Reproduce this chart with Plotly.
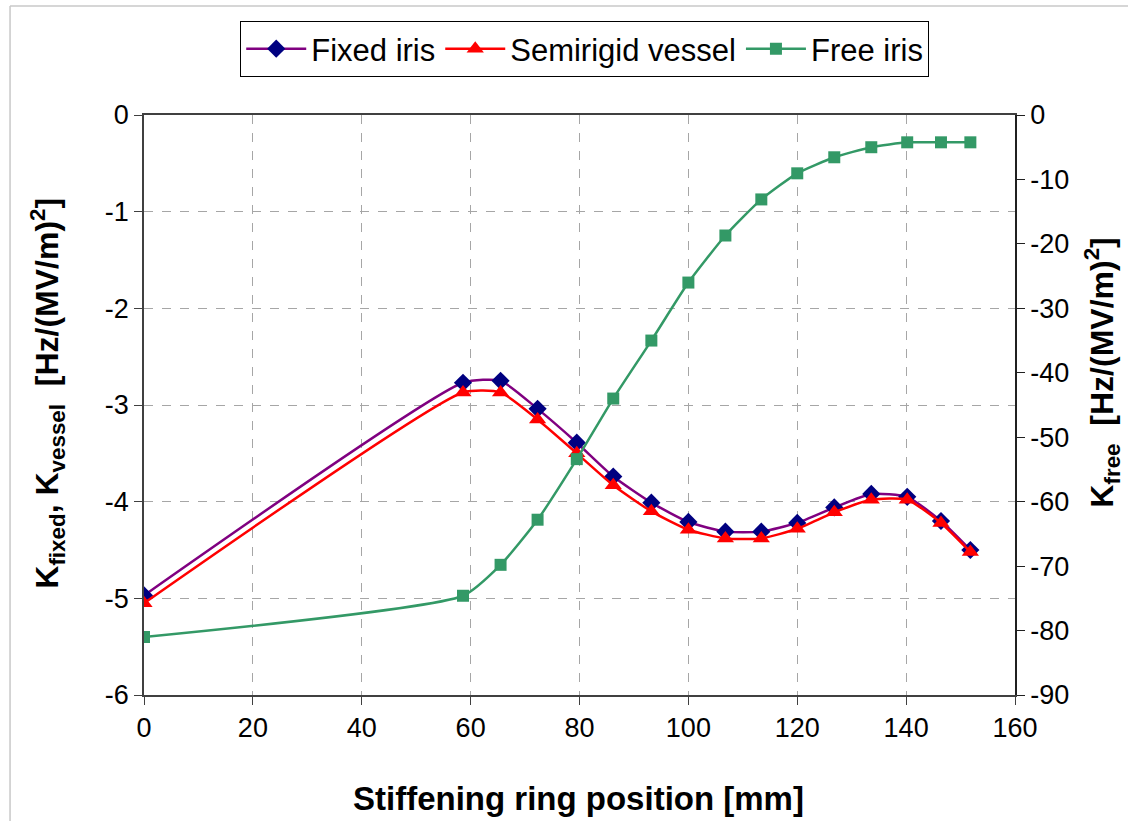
import plotly.graph_objects as go

# Stiffening ring position [mm]
ring_pos = [0, 58.6, 65.5, 72.3, 79.5, 86.2, 93.2, 100, 106.8, 113.4, 120, 126.8, 133.6, 140.2, 146.4, 151.8]

# Lorentz-force detuning coefficients [Hz/(MV/m)^2]
k_fixed = [-4.97, -2.77, -2.75, -3.04, -3.39, -3.74, -4.01, -4.21, -4.31, -4.31, -4.22, -4.06, -3.92, -3.95, -4.20, -4.50]
k_vessel = [-5.05, -2.87, -2.87, -3.15, -3.50, -3.83, -4.10, -4.29, -4.38, -4.38, -4.28, -4.11, -3.98, -3.98, -4.22, -4.52]
k_free = [-81.0, -74.6, -69.8, -62.8, -53.4, -44.0, -35.0, -26.0, -18.7, -13.1, -9.05, -6.56, -5.0, -4.24, -4.24, -4.24]

series_names = ["Fixed iris", "Semirigid vessel", "Free iris"]

# Axis tick values and their labels (plain hyphen minus)
x_ticks = [0, 20, 40, 60, 80, 100, 120, 140, 160]
y_left_ticks = [0, -1, -2, -3, -4, -5, -6]
y_right_ticks = [0, -10, -20, -30, -40, -50, -60, -70, -80, -90]
y_left_labels = [str(v) for v in y_left_ticks]
y_right_labels = [str(v) for v in y_right_ticks]

FONT = "Liberation Sans, Arial, sans-serif"
AXIS_COLOR = "#404040"
GRID_COLOR = "#a6a6a6"
SMOOTH = 0.55

fig = go.Figure()

fig.add_trace(go.Scatter(
    x=ring_pos, y=k_fixed, name=series_names[0], mode="lines+markers",
    line=dict(color="#800080", width=2.5, shape="spline", smoothing=SMOOTH),
    marker=dict(symbol="diamond", size=14, color="#000080"),
))
fig.add_trace(go.Scatter(
    x=ring_pos, y=k_vessel, name=series_names[1], mode="lines+markers",
    line=dict(color="#ff0000", width=2.5, shape="spline", smoothing=SMOOTH),
    marker=dict(symbol="triangle-up", size=15, color="#ff0000"),
))
fig.add_trace(go.Scatter(
    x=ring_pos, y=k_free, name=series_names[2], mode="lines+markers",
    line=dict(color="#339966", width=2.5, shape="spline", smoothing=SMOOTH),
    marker=dict(symbol="square", size=12, color="#339966"),
    yaxis="y2",
))

fig.update_layout(
    width=1128, height=821,
    margin=dict(l=144, r=113, t=115, b=126),
    paper_bgcolor="white", plot_bgcolor="white",
    font=dict(family=FONT, size=27, color="black"),
    showlegend=True,
    legend=dict(
        orientation="h", x=0.506, xanchor="center", y=1.162, yanchor="top",
        bordercolor="black", borderwidth=1, bgcolor="white",
        font=dict(size=31), itemwidth=60, tracegroupgap=0,
    ),
    xaxis=dict(
        range=[0, 160], tickvals=x_ticks,
        showgrid=True, gridcolor=GRID_COLOR, griddash="dash", gridwidth=1,
        showline=True, linecolor=AXIS_COLOR, linewidth=1.5, mirror=True,
        ticks="outside", ticklen=8, tickcolor=AXIS_COLOR,
        zeroline=False, tickfont=dict(size=27),
    ),
    yaxis=dict(
        range=[-6, 0], tickvals=y_left_ticks, ticktext=y_left_labels,
        showgrid=True, gridcolor=GRID_COLOR, griddash="dash", gridwidth=1,
        showline=True, linecolor=AXIS_COLOR, linewidth=1.5,
        ticks="outside", ticklen=8, tickcolor=AXIS_COLOR,
        zeroline=False, tickfont=dict(size=27),
    ),
    yaxis2=dict(
        range=[-90, 0], tickvals=y_right_ticks, ticktext=y_right_labels,
        overlaying="y", side="right",
        showgrid=False, showline=True, linecolor="#202020", linewidth=1.5,
        ticks="outside", ticklen=8, tickcolor="#202020",
        zeroline=False, tickfont=dict(size=27),
    ),
    annotations=[
        dict(text="<b>Stiffening ring position [mm]</b>", xref="paper", yref="paper",
             x=0.4983, y=-0.1776, showarrow=False, font=dict(size=33),
             xanchor="center", yanchor="middle"),
        dict(text="<b>K<sub>fixed</sub>, K<sub>vessel</sub>  [Hz/(MV/m)<sup>2</sup>]</b>",
             xref="paper", yref="paper", x=-0.111, y=0.52, textangle=-90,
             showarrow=False, font=dict(size=32), xanchor="center", yanchor="middle"),
        dict(text="<b>K<sub>free</sub>  [Hz/(MV/m)<sup>2</sup>]</b>",
             xref="paper", yref="paper", x=1.1275, y=0.555, textangle=-90,
             showarrow=False, font=dict(size=32), xanchor="right", yanchor="middle"),
    ],
    shapes=[
        # chart-area frame (top and left edges)
        dict(type="line", xref="paper", yref="paper", x0=-0.1538, x1=1.5, y0=1.1879, y1=1.1879,
             line=dict(color="#c8c8c8", width=1.5)),
        dict(type="line", xref="paper", yref="paper", x0=-0.1538, x1=-0.1538, y0=1.1879, y1=-0.5,
             line=dict(color="#c8c8c8", width=1.5)),
    ],
)

fig.write_html("out.html")
